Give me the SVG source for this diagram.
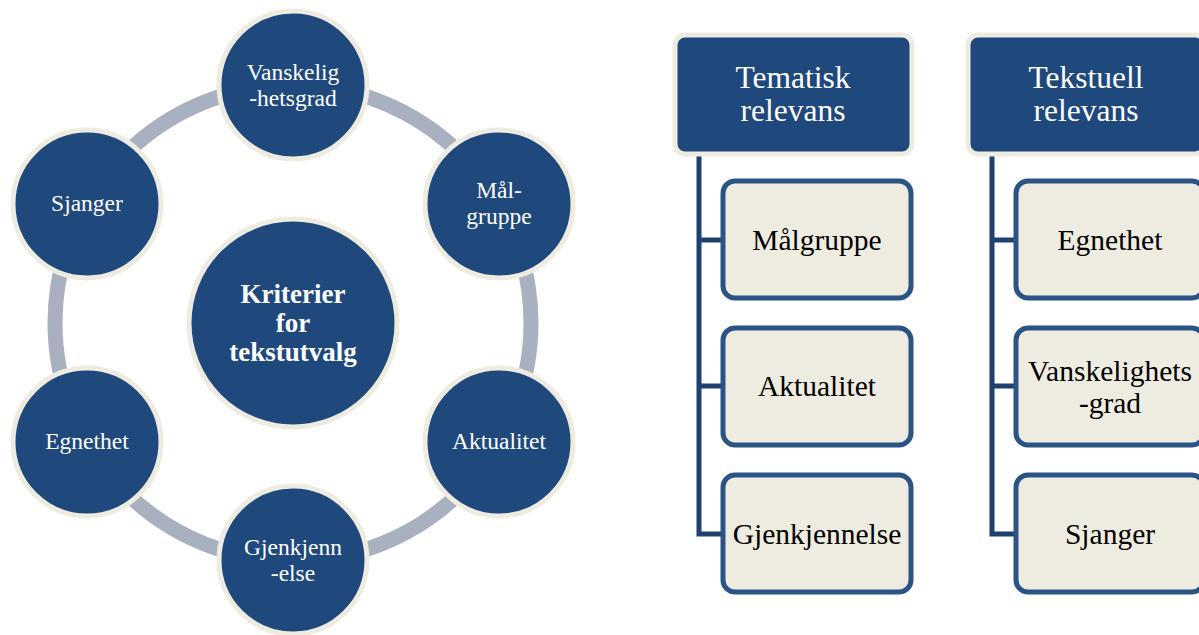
<svg xmlns="http://www.w3.org/2000/svg" width="1199" height="635" viewBox="0 0 1199 635">
<style>
text{font-family:"Liberation Serif","Times New Roman",Times,"DejaVu Serif",serif}
.c{fill:#1f497d;stroke:#eeece1;stroke-width:5}
.ct{font-size:23.5px;fill:#ffffff;text-anchor:middle}
.cc{font-size:27px;font-weight:bold;fill:#ffffff;text-anchor:middle}
.h{fill:#1f497d;stroke:#eeece1;stroke-width:5}
.ht{font-size:31.5px;fill:#ffffff;text-anchor:middle}
.b{fill:#eeece1;stroke:#2a5386;stroke-width:5}
.bt{font-size:29.5px;fill:#000000;text-anchor:middle}
.l{fill:none;stroke:#1f3f6e;stroke-width:5}
</style>
<rect width="1199" height="635" fill="#ffffff"/>
<g id="connectors">
<circle cx="293" cy="323" r="238" fill="none" stroke="#a9b0bf" stroke-width="15"/>
<path class="l" d="M699 155 V534 H722 M699 240 H722 M699 386 H722"/>
<path class="l" d="M992 155 V534 H1015 M992 240 H1015 M992 386 H1015"/>
</g>
<g id="center"><circle class="c" cx="293" cy="323" r="104"/>
<text class="cc" x="293" y="303">Kriterier</text><text class="cc" x="293" y="332">for</text><text class="cc" x="293" y="361">tekstutvalg</text></g>
<g id="vanskelighetsgrad"><circle class="c" cx="293" cy="85" r="74"/>
<text class="ct" x="293" y="80">Vanskelig</text><text class="ct" x="293" y="106">-hetsgrad</text></g>
<g id="malgruppe"><circle class="c" cx="499" cy="204" r="74"/>
<text class="ct" x="499" y="198">Mål-</text><text class="ct" x="499" y="224">gruppe</text></g>
<g id="aktualitet"><circle class="c" cx="499" cy="442" r="74"/>
<text class="ct" x="499" y="449">Aktualitet</text></g>
<g id="gjenkjennelse"><circle class="c" cx="293" cy="560" r="74"/>
<text class="ct" x="293" y="555">Gjenkjenn</text><text class="ct" x="293" y="581">-else</text></g>
<g id="egnethet"><circle class="c" cx="87" cy="442" r="74"/>
<text class="ct" x="87" y="449">Egnethet</text></g>
<g id="sjanger"><circle class="c" cx="87" cy="204" r="74"/>
<text class="ct" x="87" y="211">Sjanger</text></g>
<g id="tematisk"><rect class="h" x="675" y="35" width="237" height="119" rx="10"/>
<text class="ht" x="793" y="88">Tematisk</text><text class="ht" x="793" y="121">relevans</text></g>
<g id="t-malgruppe"><rect class="b" x="723" y="181" width="188" height="117" rx="12"/>
<text class="bt" x="817" y="250">Målgruppe</text></g>
<g id="t-aktualitet"><rect class="b" x="723" y="328" width="188" height="117" rx="12"/>
<text class="bt" x="817" y="396">Aktualitet</text></g>
<g id="t-gjenkjennelse"><rect class="b" x="723" y="475" width="188" height="117" rx="12"/>
<text class="bt" x="817" y="544">Gjenkjennelse</text></g>
<g id="tekstuell"><rect class="h" x="968" y="35" width="237" height="119" rx="10"/>
<text class="ht" x="1086" y="88">Tekstuell</text><text class="ht" x="1086" y="121">relevans</text></g>
<g id="x-egnethet"><rect class="b" x="1016" y="181" width="188" height="117" rx="12"/>
<text class="bt" x="1110" y="250">Egnethet</text></g>
<g id="x-vanskelighetsgrad"><rect class="b" x="1016" y="328" width="188" height="117" rx="12"/>
<text class="bt" x="1110" y="381">Vanskelighets</text><text class="bt" x="1110" y="413">-grad</text></g>
<g id="x-sjanger"><rect class="b" x="1016" y="475" width="188" height="117" rx="12"/>
<text class="bt" x="1110" y="544">Sjanger</text></g>
</svg>
